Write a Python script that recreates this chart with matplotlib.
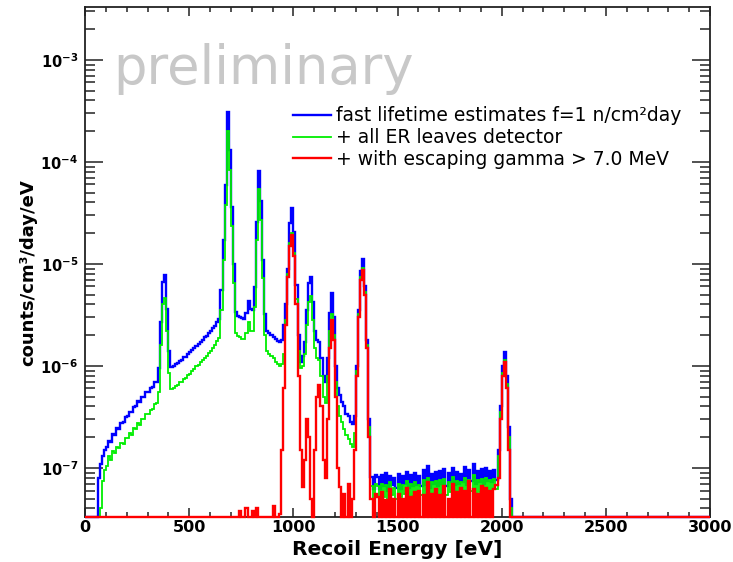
import numpy as np
import matplotlib
matplotlib.use("Agg")
import matplotlib.pyplot as plt
from matplotlib.ticker import MultipleLocator, LogLocator, FuncFormatter, NullFormatter

# histogram bins: 10 eV wide, values listed for 0-2100 eV, empty above
bin_width = 10
x_max = 3000
unit = 1e-7  # values below are in units of 1e-7 counts/cm3/day/eV

blue_vals = [
    0, 0, 0, 0, 0, 0.3, 0.8, 1.1, 1.3, 1.5,
    1.6, 1.85, 1.8, 2.15, 2.1, 2.45, 2.4, 2.75, 2.8, 3.15,
    3.2, 3.55, 3.5, 3.95, 4.0, 4.5, 4.4, 4.95, 5.0, 5.5,
    5.6, 6.1, 6.2, 6.9, 7.0, 9.5, 27, 66, 78, 36,
    14, 9.8, 10.0, 10.4, 10.6, 11.2, 11.4, 12.1, 12.3, 13.1,
    13.6, 14.4, 14.9, 15.8, 16.3, 17.2, 17.8, 19.0, 19.6, 21.0,
    22.0, 23.6, 24.8, 27.0, 29.0, 55, 170, 590, 3100, 1300,
    365, 100, 34, 31, 30, 29.5, 29, 33, 43, 36,
    35, 59, 260, 820, 415, 110, 32, 22, 21, 20,
    19, 18.5, 17.5, 17, 18, 25, 40, 90, 250, 355,
    205, 62, 20, 11, 12.5, 17, 35, 65, 75, 42,
    22, 18, 17, 12, 8, 7, 12, 33, 52, 30,
    10, 6, 5.2, 4.4, 4.0, 3.4, 3.2, 2.8, 2.7, 3.2,
    10, 35, 85, 112, 60, 18, 3, 0.82, 0.62, 0.85,
    0.82, 0.62, 0.86, 0.66, 0.9, 0.6, 0.84, 0.68, 0.8, 0.64,
    0.88, 0.62, 0.84, 0.7, 0.92, 0.64, 0.86, 0.66, 0.9, 0.68,
    0.84, 0.66, 0.95, 0.68, 1.05, 0.64, 0.88, 0.7, 0.92, 0.66,
    0.94, 0.7, 0.98, 0.66, 0.9, 0.72, 1.0, 0.68, 0.92, 0.7,
    0.88, 0.72, 1.02, 0.68, 0.96, 0.74, 1.08, 0.7, 0.94, 0.72,
    0.98, 0.7, 1.0, 0.74, 0.94, 0.72, 0.96, 0.76, 1.5, 4,
    10, 13.8, 8, 2.5, 0.5, 0, 0, 0, 0, 0,
]

green_vals = [
    0, 0, 0, 0, 0, 0, 0.1, 0.4, 0.75, 0.95,
    1.05, 1.3, 1.2, 1.45, 1.4, 1.6, 1.55, 1.75, 1.7, 1.95,
    1.95, 2.2, 2.1, 2.45, 2.4, 2.75, 2.65, 3.0, 3.0, 3.35,
    3.4, 3.7, 3.75, 4.2, 4.3, 5.5, 16, 40, 46, 22,
    8.5, 5.9, 6.0, 6.3, 6.5, 6.9, 7.0, 7.5, 7.6, 8.1,
    8.4, 8.9, 9.3, 9.9, 10.2, 10.8, 11.3, 12.0, 12.5, 13.4,
    14.0, 15.1, 15.9, 17.4, 18.8, 35, 110, 380, 2000, 840,
    235, 65, 21, 19.5, 19, 18.5, 18.5, 21, 27, 22,
    22, 38, 170, 540, 270, 72, 20, 14, 13, 12.5,
    12, 11, 10.5, 10, 10.5, 13, 28, 80, 160, 200,
    128, 45, 14, 9.5, 10, 13, 25, 42, 48, 28,
    15, 12, 11.5, 8, 5, 4.3, 8, 22, 32, 20,
    7, 4, 3.2, 2.8, 2.4, 2.1, 1.9, 1.7, 1.6, 2.2,
    9, 32, 74, 92, 53, 16, 2.5, 0.66, 0.5, 0.7,
    0.66, 0.5, 0.7, 0.52, 0.68, 0.48, 0.72, 0.54, 0.64, 0.5,
    0.7, 0.52, 0.68, 0.55, 0.74, 0.5, 0.7, 0.53, 0.72, 0.55,
    0.68, 0.54, 0.76, 0.52, 0.8, 0.55, 0.72, 0.56, 0.74, 0.52,
    0.76, 0.55, 0.78, 0.54, 0.72, 0.58, 0.82, 0.55, 0.74, 0.57,
    0.72, 0.58, 0.8, 0.55, 0.76, 0.6, 0.86, 0.56, 0.76, 0.58,
    0.78, 0.56, 0.8, 0.6, 0.76, 0.58, 0.78, 0.62, 1.3, 3.5,
    8.5, 11.5, 6.6, 2.0, 0.4, 0, 0, 0, 0, 0,
]

red_vals = [
    0, 0, 0, 0, 0, 0, 0, 0, 0, 0,
    0, 0, 0, 0, 0, 0, 0, 0, 0, 0,
    0, 0, 0, 0, 0, 0, 0, 0, 0, 0,
    0, 0, 0, 0, 0, 0, 0, 0, 0, 0,
    0, 0, 0, 0, 0, 0, 0, 0, 0, 0,
    0, 0, 0, 0, 0, 0, 0, 0, 0, 0,
    0, 0, 0, 0, 0, 0, 0, 0, 0, 0,
    0, 0, 0, 0, 0.38, 0, 0, 0.4, 0, 0,
    0.38, 0, 0.4, 0, 0, 0, 0, 0, 0, 0,
    0.42, 0, 0, 0.35, 1.5, 6, 25, 75, 150, 190,
    120, 40, 8, 1.5, 0.65, 1.2, 3.0, 2.0, 0.5, 0,
    1.5, 5.0, 6.5, 4.0, 1.2, 0.8, 3, 15, 28, 18,
    5, 1.0, 0.65, 0, 0.55, 0, 0.7, 0, 0.5, 1.5,
    8, 30, 70, 87, 50, 15, 2, 0.5, 0, 0.55,
    0.52, 0, 0.58, 0, 0.48, 0, 0.62, 0, 0.5, 0,
    0.56, 0, 0.5, 0, 0.64, 0, 0.52, 0, 0.58, 0,
    0.6, 0, 0.54, 0, 0.72, 0, 0.56, 0, 0.62, 0,
    0.54, 0, 0.66, 0, 0.5, 0, 0.7, 0, 0.58, 0,
    0.64, 0, 0.6, 0, 0.75, 0, 0.62, 0, 0.55, 0,
    0.66, 0, 0.64, 0, 0.6, 0, 0.62, 0.68, 0.8, 3,
    8, 11, 6, 1.5, 0.3, 0, 0, 0, 0, 0,
]

labels = [
    "fast lifetime estimates f=1 n/cm\u00b2day",
    "+ all ER leaves detector",
    "+ with escaping gamma > 7.0 MeV",
]
colors = ["#0000ff", "#00ee00", "#ff0000"]
widths = [1.7, 1.3, 1.7]

ymin, ymax = 3.3e-8, 3.3e-3

edges = np.arange(0, x_max + bin_width, bin_width)
nbins = len(edges) - 1

fig = plt.figure(figsize=(7.33, 5.62), dpi=100)
ax = fig.add_axes([0.116, 0.0801, 0.8527, 0.9075])

for vals, col, lw, lab in zip([blue_vals, green_vals, red_vals], colors, widths, labels):
    h = np.zeros(nbins)
    h[:len(vals)] = np.array(vals) * unit
    # empty bins sit on the bottom of the frame like in ROOT
    h = np.clip(h, ymin, None)
    ax.stairs(h, edges, baseline=None, color=col, lw=lw, label=lab,
              clip_on=False, zorder=3)

ax.set_yscale("log")
ax.set_xlim(0, x_max)
ax.set_ylim(ymin, ymax)

ax.xaxis.set_major_locator(MultipleLocator(500))
ax.xaxis.set_minor_locator(MultipleLocator(100))
ax.yaxis.set_major_locator(LogLocator(base=10))
ax.yaxis.set_minor_locator(LogLocator(base=10, subs=np.arange(2, 10)))
ax.yaxis.set_minor_formatter(NullFormatter())
ax.yaxis.set_major_formatter(FuncFormatter(lambda v, p: r"$\mathbf{10^{%d}}$" % round(np.log10(v))))

ax.tick_params(which="both", direction="in", top=True, right=True, width=1.1, color="#222222")
ax.tick_params(axis="x", which="major", length=6.5, labelsize=11.5, pad=2.5)
ax.tick_params(axis="x", which="minor", length=3.6)
ax.tick_params(axis="y", which="major", length=13, labelsize=10.5, pad=5)
ax.tick_params(axis="y", which="minor", length=7.2)
for t in ax.get_xticklabels():
    t.set_fontweight("bold")

for s in ax.spines.values():
    s.set_linewidth(1.3)
    s.set_color("#222222")

ax.set_xlabel("Recoil Energy [eV]", fontsize=14.5, fontweight="bold")
ax.xaxis.set_label_coords(0.5, -0.045)
ax.set_ylabel("counts/cm\u00b3/day/eV", fontsize=13, fontweight="bold")
ax.yaxis.set_label_coords(-0.077, 0.48)

ax.text(0.045, 0.849, "preliminary", transform=ax.transAxes, fontsize=38,
        color="#c8c8c8", ha="left", va="baseline")

ax.legend(loc="upper left", bbox_to_anchor=(0.333, 0.805), frameon=False,
          fontsize=13.5, handlelength=2.0, handletextpad=0.27, labelspacing=0.15,
          borderpad=0, borderaxespad=0)

fig.savefig("out.png", dpi=100)
